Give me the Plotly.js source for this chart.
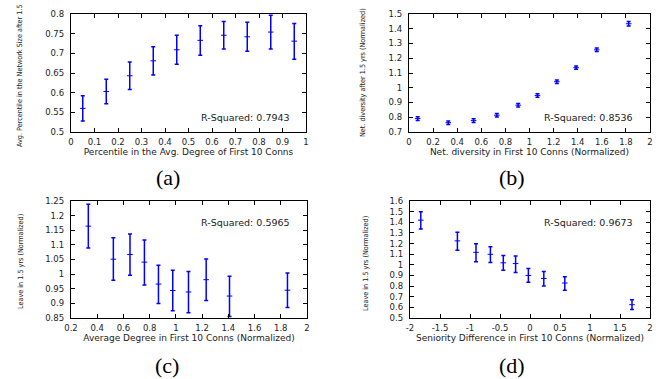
<!DOCTYPE html>
<html>
<head>
<meta charset="utf-8">
<script src="https://cdn.plot.ly/plotly-3.0.1.min.js"></script>
<style>html,body{margin:0;padding:0;background:#fff;}#chart{width:662px;height:379px;}</style>
</head>
<body>
<div id="chart"></div>
<script>
// Panel (a)
const aX = [0.05, 0.15, 0.25, 0.35, 0.45, 0.55, 0.65, 0.75, 0.85, 0.95];
const aY = [0.560, 0.603, 0.643, 0.681, 0.709, 0.733, 0.746, 0.742, 0.754, 0.731];
const aHi = [0.592, 0.634, 0.678, 0.717, 0.746, 0.770, 0.781, 0.779, 0.797, 0.776];
const aLo = [0.528, 0.572, 0.608, 0.645, 0.672, 0.695, 0.711, 0.705, 0.711, 0.685];
// Panel (b)
const bX = [0.072, 0.326, 0.536, 0.729, 0.906, 1.066, 1.227, 1.387, 1.558, 1.823];
const bY = [0.791, 0.763, 0.777, 0.814, 0.882, 0.948, 1.041, 1.136, 1.257, 1.434];
const bErr = [0.013, 0.012, 0.012, 0.012, 0.012, 0.012, 0.012, 0.011, 0.012, 0.015];
// Panel (c)
const cX = [0.332, 0.523, 0.650, 0.760, 0.867, 0.976, 1.096, 1.231, 1.409, 1.851];
const cY = [1.164, 1.051, 1.067, 1.041, 0.966, 0.944, 0.939, 0.981, 0.925, 0.945];
const cHi = [1.239, 1.124, 1.137, 1.117, 1.030, 1.013, 1.009, 1.052, 0.993, 1.004];
const cLo = [1.089, 0.979, 0.996, 0.963, 0.900, 0.875, 0.868, 0.910, 0.855, 0.886];
// Panel (d)
const dX = [-1.82, -1.21, -0.90, -0.66, -0.445, -0.24, -0.027, 0.23, 0.58, 1.70];
const dY = [1.420, 1.225, 1.117, 1.099, 1.019, 1.012, 0.900, 0.872, 0.829, 0.625];
const dHi = [1.500, 1.306, 1.198, 1.170, 1.087, 1.084, 0.966, 0.938, 0.888, 0.672];
const dLo = [1.337, 1.136, 1.030, 1.022, 0.950, 0.928, 0.835, 0.800, 0.760, 0.580];

const dTickVals = [-2, -1.5, -1, -0.5, 0, 0.5, 1, 1.5, 2];
const dTickText = ["-2", "-1.5", "-1", "-0.5", "0", "0.5", "1", "1.5", "2"];

const titlesX = ["Percentile in the Avg. Degree of First 10 Conns",
  "Net. diversity in First 10 Conns (Normalized)",
  "Average Degree in First 10 Conns (Normalized)",
  "Seniority Difference in First 10 Conns (Normalized)"];
const titlesY = ["Avg. Percentile in the Network Size after 1.5",
  "Net. diversity after 1.5 yrs (Normalized)",
  "Leave in 1.5 yrs (Normalized)",
  "Leave in 1.5 yrs (Normalized)"];
const rsq = ["R-Squared: 0.7943", "R-Squared: 0.8536", "R-Squared: 0.5965", "R-Squared: 0.9673"];
const captions = ["(a)", "(b)", "(c)", "(d)"];

const BLUE = "#0000ff";
function diff(a, b) { return a.map((v, i) => v - b[i]); }
function mk(x, y, plus, minus, xa, ya) {
  return {
    type: "scatter", mode: "markers", x: x, y: y, xaxis: xa, yaxis: ya,
    marker: {symbol: "line-ew", size: 4, color: BLUE, line: {color: BLUE, width: 1}},
    error_y: {type: "data", symmetric: false, array: plus, arrayminus: minus,
      color: BLUE, thickness: 1.5, width: 2},
    showlegend: false, hoverinfo: "skip"
  };
}
const traces = [
  mk(aX, aY, diff(aHi, aY), diff(aY, aLo), "x", "y"),
  mk(bX, bY, bErr, bErr, "x2", "y2"),
  mk(cX, cY, diff(cHi, cY), diff(cY, cLo), "x3", "y3"),
  mk(dX, dY, diff(dHi, dY), diff(dY, dLo), "x4", "y4")
];

const SANS = "DejaVu Sans, Liberation Sans, sans-serif";
const NARROW = "Liberation Sans Narrow, DejaVu Sans Condensed, Liberation Sans, sans-serif";
function ax(extra, title, isY) {
  const o = Object.assign({
    showline: true, linecolor: "#000", linewidth: 1.2, mirror: "ticks",
    ticks: "inside", ticklen: 4, tickcolor: "#000", tickwidth: 1,
    showgrid: false, zeroline: false, fixedrange: true,
    tickfont: {family: SANS, size: 8.5, color: "#222"},
    ticklabelstandoff: isY ? 4 : 2
  }, extra);
  if (!isY) o.title = {text: title, font: {family: SANS, size: 9, color: "#222"}, standoff: 2};
  return o;
}
const colL = [71/662, 306/662], colR = [409/662, 650/662];
const colL2 = [71/662, 307/662], colR2 = [410/662, 650/662];
const rowT = [247/379, 365/379], rowB = [61/379, 178/379];

function ytitle(i, px, py) {
  return {text: titlesY[i], xref: "paper", yref: "paper", x: px/662, y: 1 - py/379,
    xanchor: "center", yanchor: "middle", textangle: -90, showarrow: false,
    font: {family: NARROW, size: 7.2, color: "#222"}};
}
function note(text, px, py, fam, size, col) {
  return {text: text, xref: "paper", yref: "paper", x: px/662, y: 1 - py/379,
    xanchor: fam === "serif" ? "center" : "right", yanchor: "middle", showarrow: false,
    font: {family: fam === "serif" ? "Liberation Serif, serif" : SANS, size: size, color: col}};
}

const layout = {
  width: 662, height: 379,
  margin: {l: 0, r: 0, t: 0, b: 0},
  paper_bgcolor: "#fff", plot_bgcolor: "#fff",
  xaxis: ax({domain: colL, range: [0, 1], dtick: 0.1, anchor: "y"}, titlesX[0], false),
  yaxis: ax({domain: rowT, range: [0.5, 0.8], dtick: 0.05, anchor: "x"}, titlesY[0], true),
  xaxis2: ax({domain: colR, range: [0, 2], dtick: 0.2, anchor: "y2"}, titlesX[1], false),
  yaxis2: ax({domain: rowT, range: [0.7, 1.5], dtick: 0.1, anchor: "x2"}, titlesY[1], true),
  xaxis3: ax({domain: colL2, range: [0.2, 2], dtick: 0.2, anchor: "y3"}, titlesX[2], false),
  yaxis3: ax({domain: rowB, range: [0.85, 1.25], dtick: 0.05, anchor: "x3"}, titlesY[2], true),
  xaxis4: ax({domain: colR2, range: [-2, 2], tickmode: "array", tickvals: dTickVals, ticktext: dTickText, anchor: "y4"}, titlesX[3], false),
  yaxis4: ax({domain: rowB, range: [0.5, 1.6], dtick: 0.1, anchor: "x4"}, titlesY[3], true),
  annotations: [
    ytitle(0, 20, 76), ytitle(1, 363, 73), ytitle(2, 20, 262), ytitle(3, 365, 264),
    note(rsq[0], 292, 118, "sans", 9.5, "#222"),
    note(rsq[1], 635, 118, "sans", 9.5, "#222"),
    note(rsq[2], 292, 222, "sans", 9.5, "#222"),
    note(rsq[3], 635, 222, "sans", 9.5, "#222"),
    note(captions[0], 168, 177, "serif", 22, "#000"),
    note(captions[1], 512, 177, "serif", 22, "#000"),
    note(captions[2], 167, 365, "serif", 22, "#000"),
    note(captions[3], 512, 365, "serif", 22, "#000")
  ]
};
Plotly.newPlot("chart", traces, layout, {displayModeBar: false, staticPlot: true});
</script>
</body>
</html>
